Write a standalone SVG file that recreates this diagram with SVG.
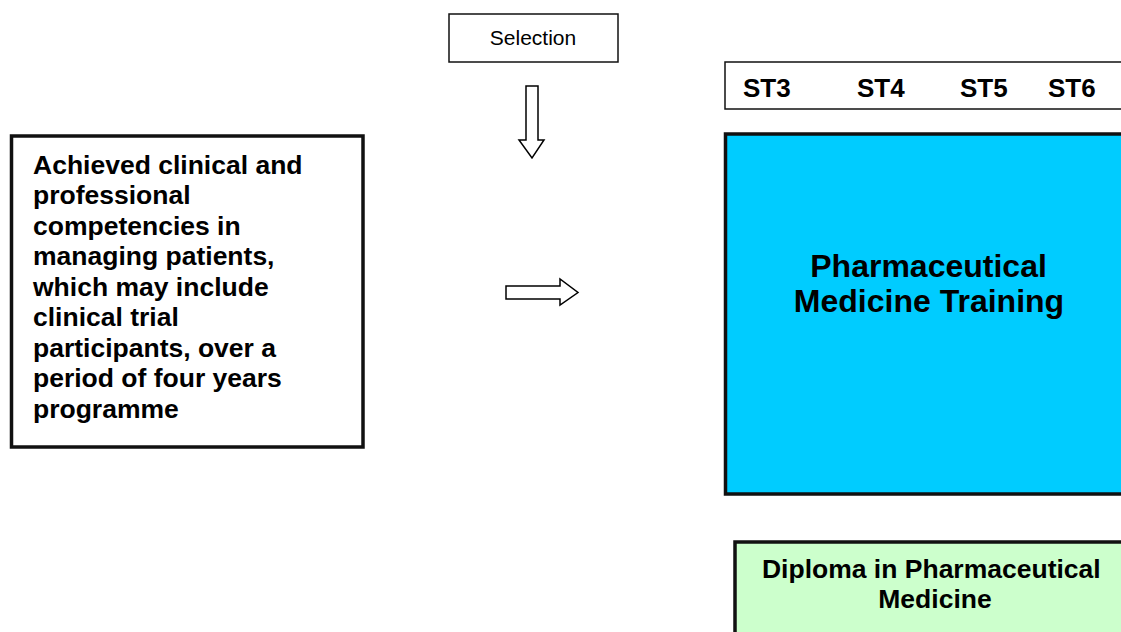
<svg xmlns="http://www.w3.org/2000/svg" width="1121" height="632" viewBox="0 0 1121 632">
<style>
  text { font-family: "Liberation Sans", Arial, sans-serif; fill: #000; }
  .b { font-weight: bold; }
  .thin { fill: #fff; stroke: #111; stroke-width: 1.5; }
  .thick { stroke: #111; stroke-width: 3.5; }
  .arrow { fill: #fff; stroke: #000; stroke-width: 1.5; stroke-linejoin: miter; }
</style>
<rect width="1121" height="632" fill="#fff"/>
<g id="selection">
  <rect class="thin" x="449" y="14" width="169" height="48"/>
  <text x="533" y="45" font-size="21" text-anchor="middle">Selection</text>
</g>
<g id="competencies">
  <rect class="thick" x="11.5" y="136" width="351.5" height="311" fill="#fff"/>
  <text class="b" font-size="26.5">
    <tspan x="33" y="173.5">Achieved clinical and</tspan>
    <tspan x="33" y="204">professional</tspan>
    <tspan x="33" y="234.5">competencies in</tspan>
    <tspan x="33" y="265">managing patients,</tspan>
    <tspan x="33" y="295.5">which may include</tspan>
    <tspan x="33" y="326">clinical trial</tspan>
    <tspan x="33" y="356.5">participants, over a</tspan>
    <tspan x="33" y="387">period of four years</tspan>
    <tspan x="33" y="417.5">programme</tspan>
  </text>
</g>
<g id="stages">
  <rect class="thin" x="725" y="62" width="410" height="47"/>
  <text class="b" font-size="26" y="97">
    <tspan x="743">ST3</tspan>
    <tspan x="857">ST4</tspan>
    <tspan x="960">ST5</tspan>
    <tspan x="1048">ST6</tspan>
  </text>
</g>
<g id="training">
  <rect class="thick" x="725.5" y="134" width="410" height="360" fill="#00CCFF"/>
  <text class="b" font-size="32" text-anchor="middle">
    <tspan x="933" y="277">Pharmaceutical</tspan>
    <tspan x="929" y="312">Medicine Training</tspan>
  </text>
</g>
<g id="diploma">
  <rect class="thick" x="735" y="542" width="410" height="110" fill="#CCFFCC"/>
  <text class="b" font-size="26.5" text-anchor="middle">
    <tspan x="935" y="578">Diploma in Pharmaceutical</tspan>
    <tspan x="935" y="608">Medicine</tspan>
  </text>
</g>
<g id="connectors">
  <path class="arrow" d="M526,86 H538 V140 H544 L532,158 L519,140 H526 Z"/>
  <path class="arrow" d="M506,286 H560 V279 L578,292.5 L560,305 V299 H506 Z"/>
</g>
</svg>
